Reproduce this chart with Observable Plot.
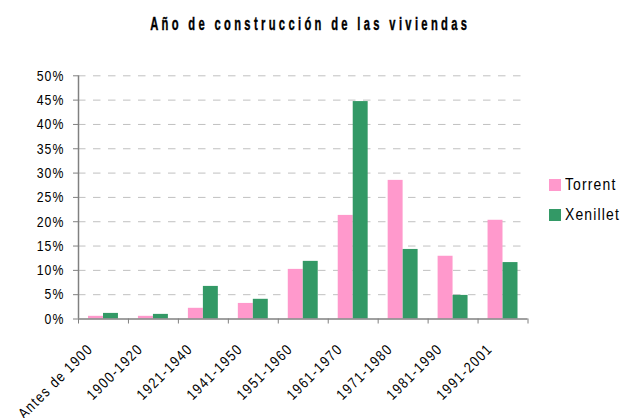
<!DOCTYPE html>
<html>
<head>
<meta charset="utf-8">
<script src="https://cdn.jsdelivr.net/npm/d3@7"></script>
<script src="https://cdn.jsdelivr.net/npm/@observablehq/plot@0.6"></script>
<style>
  body { margin: 0; background: #fff; }
  #wrap { position: relative; width: 621px; height: 418px; overflow: hidden;
    font-family: "Liberation Sans", Arial, sans-serif; color: #000; }
  #title { position: absolute; left: 0; top: 14.8px; width: 621px; text-align: center; white-space: nowrap; }
  #title span { display: inline-block; font-weight: bold; font-size: 18px; line-height: 18px; letter-spacing: 5.4px;
    -webkit-text-stroke: 0.4px #000; transform: scaleX(0.62); transform-origin: 50% 50%; }
  .lg { position: absolute; left: 549px; height: 17px; line-height: 17px; white-space: nowrap; }
  .sw { display: inline-block; width: 12px; height: 12px; vertical-align: top; margin-top: 3px; }
  .lt { display: inline-block; font-size: 17px; letter-spacing: 1.4px; transform: scaleX(0.82); transform-origin: 0 50%; margin-left: 4px; vertical-align: top; }
  #chart svg text { letter-spacing: 1.3px; }
  #chart svg g.xlab text { letter-spacing: 1.8px; }
  #chart { position: absolute; left: 0; top: 0; }
</style>
</head>
<body>
<div id="wrap">
  <div id="chart"></div>
  <div id="title"></div>
  <div id="legend"></div>
</div>
<script>
const title = "Año de construcción de las viviendas";
const categories = ["Antes de 1900", "1900-1920", "1921-1940", "1941-1950", "1951-1960", "1961-1970", "1971-1980", "1981-1990", "1991-2001"];
const torrent = [0.55, 0.55, 2.2, 3.2, 10.2, 21.3, 28.5, 12.9, 20.3];
const xenillet = [1.15, 0.95, 6.7, 4.05, 11.85, 44.7, 14.3, 4.85, 11.6];
const seriesNames = ["Torrent", "Xenillet"];
const seriesColors = ["#FF99CC", "#339966"];
const yTicks = [0, 5, 10, 15, 20, 25, 30, 35, 40, 45, 50];

const rowsT = categories.map((c, i) => ({i, cat: c, value: torrent[i]}));
const rowsX = categories.map((c, i) => ({i, cat: c, value: xenillet[i]}));
const bounds = d3.range(0, categories.length + 1);
const centers = categories.map((c, i) => i + 0.5);

const plot = Plot.plot({
  width: 621,
  height: 418,
  marginLeft: 78,
  marginRight: 93.5,
  marginTop: 75.3,
  marginBottom: 99.5,
  style: {fontFamily: '"Liberation Sans", Arial, sans-serif', fontSize: "15px", color: "#000", background: "#fff"},
  x: {type: "linear", domain: [0, categories.length]},
  y: {domain: [0, 50]},
  marks: [
    Plot.ruleY(yTicks.filter(d => d > 0), {stroke: "#c0c0c0", strokeDasharray: "7.5,7.5", strokeWidth: 1}),
    Plot.rect(rowsT, {x1: d => d.i, x2: d => d.i + 1, y1: 0, y2: "value", fill: seriesColors[0], insetLeft: 10, insetRight: 25}),
    Plot.rect(rowsX, {x1: d => d.i, x2: d => d.i + 1, y1: 0, y2: "value", fill: seriesColors[1], insetLeft: 25, insetRight: 10}),
    Plot.axisY({ticks: yTicks, tickFormat: d => d + "%", tickSize: 5, tickPadding: 9, stroke: "#808080", label: null, fill: "#000"}),
    Plot.axisX({ticks: bounds, tickFormat: () => "", tickSize: 5, stroke: "#808080", label: null}),
    Plot.axisX({ticks: centers, tickFormat: d => categories[Math.floor(d)], tickSize: 0, tickPadding: 27.5, dx: -13, dy: 0,
      tickRotate: -45, textAnchor: "end", lineAnchor: "middle", label: null, fill: "#000"}),
    Plot.ruleX([0], {y1: 0, y2: 50, stroke: "#808080", strokeWidth: 1.5}),
    Plot.ruleY([0], {stroke: "#808080", strokeWidth: 1.5})
  ]
});

// condense SVG text horizontally (narrow typeface look)
plot.querySelectorAll("text").forEach(t => {
  const tr = t.getAttribute("transform") || "";
  let x = t.getAttribute("x"), y = t.getAttribute("y");
  const nx = x != null && !isNaN(+x) ? +x : 0;
  const ny = y != null && !isNaN(+y) ? +y : 0;
  if (x != null && !isNaN(+x)) t.removeAttribute("x");
  if (y != null && !isNaN(+y)) t.removeAttribute("y");
  t.setAttribute("transform", (tr ? tr + " " : "") + `translate(${nx},${ny}) scale(0.82,1)`);
});
// mark the category label group for styling
plot.querySelectorAll("g").forEach(g => {
  const texts = g.querySelectorAll(":scope > text");
  if (texts.length && categories.includes(texts[0].textContent)) g.classList.add("xlab");
});
document.getElementById("chart").appendChild(plot);

const tspan = document.createElement("span");
tspan.textContent = title;
document.getElementById("title").appendChild(tspan);

const legend = document.getElementById("legend");
const legendTops = [176, 206];
seriesNames.forEach((name, k) => {
  const row = document.createElement("div");
  row.className = "lg";
  row.style.top = legendTops[k] + "px";
  const sw = document.createElement("span");
  sw.className = "sw";
  sw.style.background = seriesColors[k];
  const tx = document.createElement("span");
  tx.className = "lt";
  tx.textContent = name;
  row.appendChild(sw);
  row.appendChild(tx);
  legend.appendChild(row);
});
</script>
</body>
</html>
